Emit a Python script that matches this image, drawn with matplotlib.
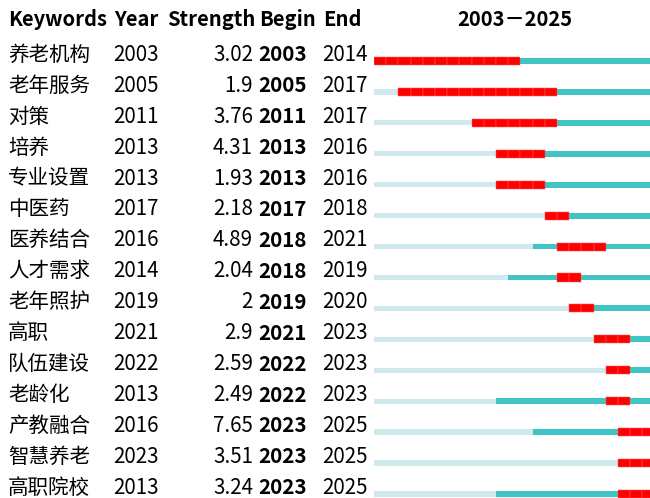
import matplotlib.pyplot as plt
import matplotlib.transforms as mtransforms

plt.rcParams['font.family'] = ['Noto Sans CJK SC', 'DejaVu Sans']

keywords = ['养老机构', '老年服务', '对策', '培养', '专业设置', '中医药', '医养结合', '人才需求',
            '老年照护', '高职', '队伍建设', '老龄化', '产教融合', '智慧养老', '高职院校']
years = [2003, 2005, 2011, 2013, 2013, 2017, 2016, 2014, 2019, 2021, 2022, 2013, 2016, 2023, 2013]
strengths = ['3.02', '1.9', '3.76', '4.31', '1.93', '2.18', '4.89', '2.04', '2', '2.9', '2.59',
             '2.49', '7.65', '3.51', '3.24']
begins = [2003, 2005, 2011, 2013, 2013, 2017, 2018, 2018, 2019, 2021, 2022, 2022, 2023, 2023, 2023]
ends = [2014, 2017, 2017, 2016, 2016, 2018, 2021, 2019, 2020, 2023, 2023, 2023, 2025, 2025, 2025]
start_year, end_year = 2003, 2025

fig = plt.figure(figsize=(6.5, 4.98), dpi=100)
# bar area: years on x, rows on y (axes spans full height, row 0 near top)
ax = fig.add_axes([374 / 650, 0, 280.5 / 650, 1])
ax.set_xlim(start_year, end_year + 1)
ax.set_ylim(14.13, -1.972)
ax.set_axis_off()

light = '#cfe9ec'
teal = '#40c4c4'
red = '#ff0000'

for i in range(len(keywords)):
    y0 = years[i]
    if y0 > start_year:
        ax.barh(i, y0 - start_year, left=start_year, height=0.17, color=light, linewidth=0)
    ax.barh(i, end_year + 1 - y0, left=y0, height=0.19, color=teal, linewidth=0)
    for yr in range(begins[i], ends[i] + 1):
        ax.barh(i, 1, left=yr, height=0.26, color=red, edgecolor='#ff5a5a', linewidth=0.35)

# table text: x in figure pixels, y in row units
trans = mtransforms.blended_transform_factory(fig.transFigure, ax.transData)
fs = 14.8

def px(x):
    return x / 650

hy = -1.33
ax.text(px(8), hy, 'Keywords', transform=trans, fontsize=14.5, fontweight='bold', va='center', ha='left')
ax.text(px(114), hy, 'Year', transform=trans, fontsize=14.5, fontweight='bold', va='center', ha='left')
ax.text(px(167), hy, 'Strength', transform=trans, fontsize=14.5, fontweight='bold', va='center', ha='left')
ax.text(px(259), hy, 'Begin', transform=trans, fontsize=14.5, fontweight='bold', va='center', ha='left')
ax.text(px(323), hy, 'End', transform=trans, fontsize=14.5, fontweight='bold', va='center', ha='left')
ax.text(px(515), hy, f'{start_year}－{end_year}', transform=trans, fontsize=14.5, fontweight='bold',
        va='center', ha='center')

for i in range(len(keywords)):
    ty = i - 0.2
    ax.text(px(8), ty, keywords[i], transform=trans, fontsize=fs, va='center', ha='left')
    ax.text(px(113), ty, str(years[i]), transform=trans, fontsize=fs, va='center', ha='left')
    ax.text(px(253), ty, strengths[i], transform=trans, fontsize=fs, va='center', ha='right')
    ax.text(px(258), ty, str(begins[i]), transform=trans, fontsize=fs, fontweight='bold', va='center', ha='left')
    ax.text(px(322), ty, str(ends[i]), transform=trans, fontsize=fs, va='center', ha='left')

fig.savefig('out.png', dpi=100)
